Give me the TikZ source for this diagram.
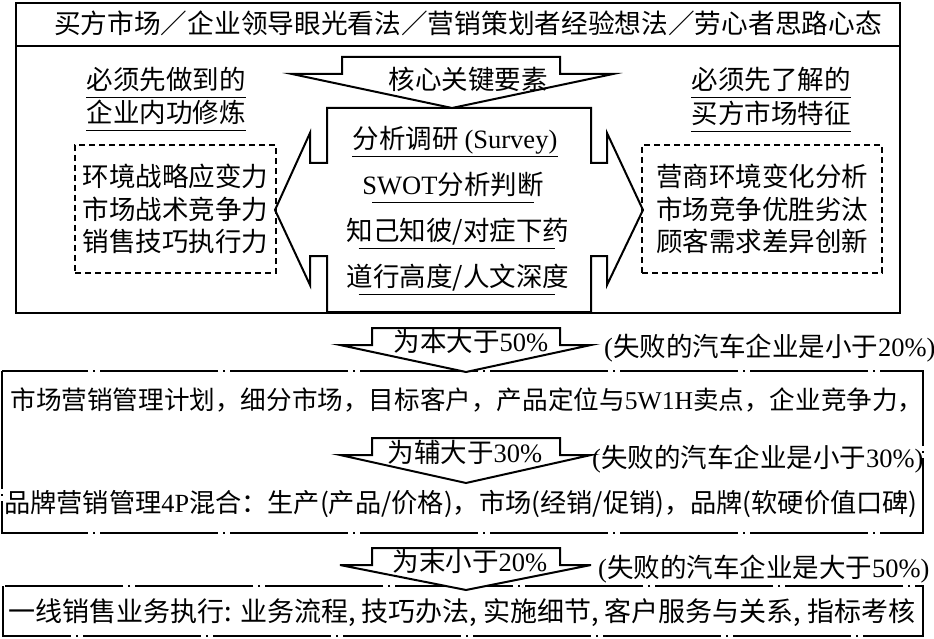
\documentclass[tikz,border=0pt]{standalone}
\usepackage{fontspec}
\setmainfont{Noto Sans CJK SC}
\newfontfamily\en{Liberation Serif}
\usepackage{tikz}
\newcommand{\fsz}[1]{\fontsize{#1}{#1}\selectfont}
\tikzset{
  txt/.style={inner xsep=0pt, inner ysep=4pt, text height=23pt,
              text depth=3.5pt, font=\fsz{26.5}},
  uline/.style={line width=1.8pt},
  blockarrow/.style={line width=2pt, fill=white, line join=miter},
  dashbox/.style={draw, dashed, line width=1.1pt,
                  dash pattern=on 6pt off 4pt, align=center,
                  font=\fontsize{26.5}{32.5}\selectfont},
  dotbox/.style={line width=1.3pt,
                 dash pattern=on 118pt off 5pt on 2pt off 5pt}
}

\begin{document}
\begin{tikzpicture}[x=1pt, y=-1pt]
  \useasboundingbox (0,0) rectangle (934,639);
  % Core double arrow (centre box)
  \draw[blockarrow] (327,108) -- (591,108) -- (591,163) -- (607,163)
    -- (607,133) -- (643,210) -- (607,285) -- (607,256) -- (591,256)
    -- (591,312) -- (327,312) -- (327,256) -- (310,256) -- (310,285)
    -- (275,210) -- (310,133) -- (310,163) -- (327,163) -- cycle;
  % Down arrow into the centre box
  \draw[blockarrow] (342,57) -- (560,57) -- (560,74) -- (613,74)
    -- (452,108) -- (292,74) -- (342,74) -- cycle;
  % Outer box and title bar
  \draw[line width=2.6pt] (16,3) rectangle (900,313);
  \draw[line width=2.6pt] (16,46) -- (900,46);
  \node[txt, font=\fsz{26.7}] (title) at (468,24)
    {买方市场／企业领导眼光看法／营销策划者经验想法／劳心者思路心态};
  \node[txt] (core) at (468,80) {核心关键要素};
  % Left side
  \node[txt] (lhead1) at (166,80) {必须先做到的};
  \node[txt] (lhead2) at (166,113) {企业内功修炼};
  \draw[uline] (lhead1.south west) -- (lhead1.south east);
  \draw[uline] (lhead2.south west) -- (lhead2.south east);
  \node[dashbox, minimum width=201pt, minimum height=128pt] (lbox)
    at (175.5,209) {环境战略应变力\\市场战术竞争力\\销售技巧执行力};
  % Right side
  \node[txt] (rhead1) at (771,80) {必须先了解的};
  \node[txt] (rhead2) at (771,114) {买方市场特征};
  \draw[uline] (rhead1.south west) -- (rhead1.south east);
  \draw[uline] (rhead2.south west) -- (rhead2.south east);
  \node[dashbox, minimum width=240pt, minimum height=128pt] (rbox)
    at (762,209) {营商环境变化分析\\市场竞争优胜劣汰\\顾客需求差异创新};
  % Centre items
  \node[txt] (survey) at (455,139) {分析调研 {\en (Survey)}};
  \node[txt] (swot) at (453,185) {{\en SWOT}分析判断};
  \node[txt] (know) at (458,231) {知己知彼/对症下药};
  \node[txt] (depth) at (458,277) {道行高度/人文深度};
  \draw[uline] (survey.south west) -- (survey.south east);
  \draw[uline] ([xshift=10pt]swot.south west) -- ([xshift=-10pt]swot.south east);
  \draw[uline] ([xshift=12pt]know.south west) -- ([xshift=-14pt]know.south east);
  \draw[uline] ([xshift=12pt]depth.south west) -- ([xshift=-14pt]depth.south east);
  % Lower boxes
  \draw[dotbox] (2,371) rectangle (923,533);
  \draw[dotbox] (3,586) rectangle (923,636);
  \node[txt, font=\fsz{25.6}] (plan) at (467,400)
    {市场营销管理计划，细分市场，目标客户，产品定位与{\en 5W1H}卖点，企业竞争力，};
  \node[txt, font=\fsz{26.2}] (brand) at (461,503)
    {品牌营销管理{\en 4P}混合：生产(产品/价格)，市场(经销/促销)，品牌(软硬价值口碑)};
  \node[txt, font=\fsz{27}] (sales) at (462,612)
    {一线销售业务执行: 业务流程, 技巧办法, 实施细节, 客户服务与关系, 指标考核};
  % Ratio arrows
  \draw[blockarrow] (372,328) -- (560,328) -- (560,345) -- (591,345)
    -- (466,372) -- (340,345) -- (372,345) -- cycle;
  \draw[blockarrow] (372,438) -- (560,438) -- (560,455) -- (591,455)
    -- (466,483) -- (340,455) -- (372,455) -- cycle;
  \draw[blockarrow] (372,548) -- (560,548) -- (560,565) -- (591,565)
    -- (466,590) -- (340,565) -- (372,565) -- cycle;
  \node[txt] (main) at (471,342) {为本大于{\en 50\%}};
  \node[txt] (aux) at (465,453) {为辅大于{\en 30\%}};
  \node[txt] (tail) at (470,562) {为末小于{\en 20\%}};
  % Side notes
  \node[txt, anchor=west] (note1) at (604,347) {{\en (}失败的汽车企业是小于{\en 20\%)}};
  \node[txt, anchor=west] (note2) at (592,458) {{\en (}失败的汽车企业是小于{\en 30\%)}};
  \node[txt, anchor=west] (note3) at (598,568) {{\en (}失败的汽车企业是大于{\en 50\%)}};
\end{tikzpicture}
\end{document}
